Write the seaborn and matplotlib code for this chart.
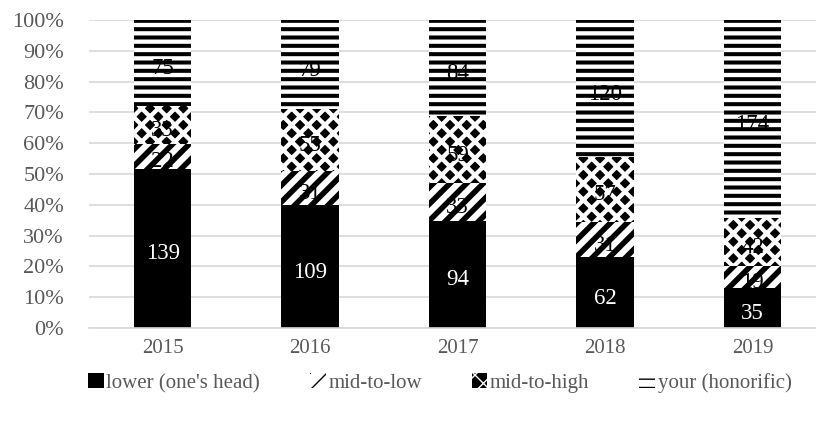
import numpy as np
import pandas as pd
import matplotlib
matplotlib.use("Agg")
import matplotlib.pyplot as plt
import seaborn as sns

years = ["2015", "2016", "2017", "2018", "2019"]
series = ["lower (one's head)", "mid-to-low", "mid-to-high", "your (honorific)"]
lower = [139, 109, 94, 62, 35]
mid_low = [22, 31, 33, 31, 19]
mid_high = [33, 55, 59, 57, 42]
your = [75, 79, 84, 120, 174]
y_ticks = [0, 10, 20, 30, 40, 50, 60, 70, 80, 90, 100]

counts = np.array([lower, mid_low, mid_high, your], dtype=float)
pct = counts / counts.sum(axis=0) * 100
cum = np.cumsum(pct, axis=0)

# face colour, hatch, hatch colour, hatch line width
styles = [
    dict(face="black", hatch=None, hcol="black", hlw=1.0),
    dict(face="white", hatch="//", hcol="black", hlw=4.0),
    dict(face="black", hatch="xx", hcol="white", hlw=3.1),
    dict(face="white", hatch="--", hcol="black", hlw=2.9),
]

sns.set_style("white")
plt.rcParams["font.family"] = ["Liberation Serif", "DejaVu Serif"]
TXT = "#595959"

fig = plt.figure(figsize=(8.16, 4.28), dpi=100)
ax = fig.add_axes([0.109, 0.234, 0.891, 0.719])

# stack drawn from the top segment down so each shorter bar covers the one behind
handles = [None] * 4
for i in range(3, -1, -1):
    df = pd.DataFrame({"year": years, "cum": cum[i]})
    st = styles[i]
    kw = dict(hatch=st["hatch"]) if st["hatch"] else {}
    with plt.rc_context({"hatch.linewidth": st["hlw"]}):
        sns.barplot(data=df, x="year", y="cum", color=st["face"], width=0.39,
                    edgecolor=st["hcol"], linewidth=0, saturation=1, ax=ax, **kw)
    cont = ax.containers[-1]
    for p in cont:
        p.set_facecolor(st["face"])
        p.set_edgecolor(st["hcol"])
        p.set_linewidth(0)
        if hasattr(p, "set_hatch_linewidth"):
            p.set_hatch_linewidth(st["hlw"])
    handles[i] = cont[0]

# segment value labels
for i in range(4):
    base = cum[i] - pct[i]
    for j in range(len(years)):
        ax.text(j, base[j] + pct[i][j] / 2 - 1.8, f"{int(counts[i][j])}",
                ha="center", va="center", fontsize=16.5,
                color="white" if i == 0 else "black", zorder=5)

ax.set_ylim(0, 100)
ax.set_xlim(-0.5, 4.43)
ax.set_yticks(y_ticks)
ax.set_yticklabels([f"{t}%" for t in y_ticks])
ax.set_xlabel("")
ax.set_ylabel("")
ax.yaxis.grid(True, color="#d9d9d9", linewidth=1.2)
ax.set_axisbelow(True)
for s in ["top", "right", "left"]:
    ax.spines[s].set_visible(False)
ax.spines["bottom"].set_color("#d9d9d9")
ax.spines["bottom"].set_linewidth(1.2)
ax.tick_params(axis="both", length=0, colors=TXT)
ax.tick_params(axis="x", pad=8, labelsize=15)
ax.tick_params(axis="y", pad=18, labelsize=16)

leg = fig.legend(handles, series, loc="center", bbox_to_anchor=(0.539, 0.105),
                 ncol=4, frameon=False, fontsize=15, handlelength=0.75,
                 handleheight=0.75, handletextpad=0.12, columnspacing=2.4,
                 labelcolor=TXT)

fig.savefig("out.png", dpi=100)
